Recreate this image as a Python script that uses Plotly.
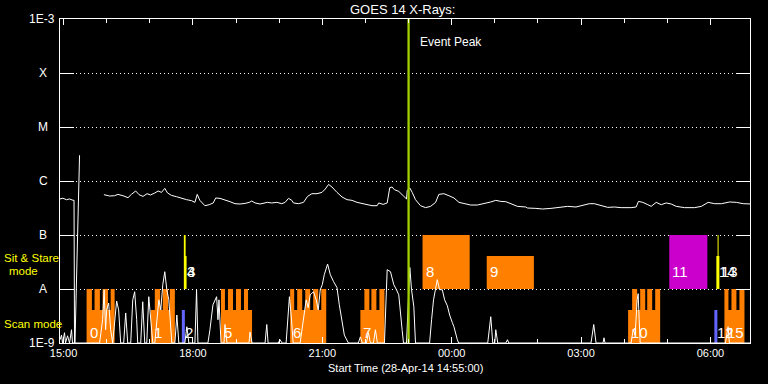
import plotly.graph_objects as go
from datetime import datetime, timedelta
import math

# ---------------- data ----------------
START = datetime(2014, 4, 28, 14, 55)
END = datetime(2014, 4, 29, 6, 55)
EVENT_PEAK_MIN = 485  # minutes after start (23:00)

# GOES 1-8 A channel (minutes after start, flux W/m^2); None = data gap
long_min = [0, 4, 9, 13, 18, 19.5, 20.2, 20.9, 22.3, 24.4, 26.2, 27.2, 40,
            61.1, 69.1, 76.0, 80.6, 87.6, 94.6, 99.3, 105.3, 110.0, 115.5, 121.1, 125.9,
            131.9, 136.5, 141.2, 145.8, 149.6, 155.2, 162.1, 169.1, 176.1, 183.1, 187.7,
            190.9, 194.6, 201.6, 207.6, 213.2, 216.6, 222.6, 229.5, 236.5, 243.5, 250.5,
            257.5, 263.4, 266.8, 271.4, 278.4, 283.0, 288.5, 294.7, 301.7, 308.6, 313.2,
            317.9, 322.6, 324.8, 331.8, 338.8, 344.4, 350.5, 357.5, 364.5, 369.1, 373.7,
            378.4, 385.4, 392.4, 399.3, 406.3, 413.3, 420.3, 427.2, 434.2, 441.2, 443.4,
            449.6, 455.2, 458.8, 462.1, 465.3, 471.3, 477.5, 482.1, 483.1, 486.7, 490.0,
            494.6, 501.6, 508.6, 515.6, 522.6, 527.1, 534.1, 541.1, 548.1, 555.1, 562.0,
            571.4, 580.7, 589.9, 599.3, 606.3, 613.2, 620.2, 627.2, 636.5, 648.1, 650.5,
            662.1, 671.4, 683.0, 694.6, 706.3, 717.9, 727.2, 736.4, 743.4, 752.7, 762.1,
            771.3, 780.7, 794.6, 801.6, 804.8, 810.9, 817.9, 822.5, 829.5, 836.5, 843.4,
            850.4, 857.4, 869.0, 883.0, 892.3, 901.7, 910.9, 920.2, 931.8, 941.1, 950.5,
            962.1]
long_flux = [4.65e-7, 4.8e-7, 4.5e-7, 4.65e-7, 4.4e-7, 4.4e-7, 1e-9, 1e-9, 6.3e-9,
             1.25e-7, 1.0e-6, 3.0e-6, None,
             5.58e-7, 5.27e-7, 5.34e-7, 5.65e-7, 5.34e-7, 4.91e-7, 5.65e-7, 6.53e-7,
             5.58e-7, 5.19e-7, 5.82e-7, 5.51e-7,
             6.00e-7, 6.53e-7, 6.15e-7, 7.30e-7, 6.00e-7, 5.41e-7, 5.12e-7, 4.77e-7,
             4.51e-7, 4.32e-7, 4.02e-7,
             5.65e-7, 4.38e-7, 3.49e-7, 3.64e-7, 3.92e-7, 4.85e-7, 4.77e-7, 4.51e-7,
             4.14e-7, 3.80e-7, 3.75e-7,
             3.85e-7, 4.02e-7, 4.26e-7, 3.92e-7, 3.75e-7, 3.85e-7, 4.02e-7, 3.92e-7,
             4.02e-7, 3.80e-7, 4.02e-7,
             4.77e-7, 4.38e-7, 3.92e-7, 3.80e-7, 4.02e-7, 5.19e-7, 5.82e-7, 5.82e-7,
             6.15e-7, 7.11e-7, 8.65e-7,
             7.74e-7, 6.15e-7, 5.06e-7, 4.51e-7, 4.38e-7, 4.02e-7, 3.80e-7, 3.64e-7,
             3.49e-7, 3.49e-7, 3.92e-7,
             3.69e-7, 3.92e-7, 7.52e-7, 7.74e-7, 6.90e-7, 6.42e-7, 5.34e-7, 4.65e-7,
             6.70e-7, 7.42e-7, 6.15e-7,
             4.51e-7, 3.49e-7, 3.21e-7, 3.39e-7, 4.02e-7, 5.65e-7, 5.82e-7, 5.34e-7,
             4.85e-7, 4.02e-7, 3.80e-7,
             3.59e-7, 3.59e-7, 3.80e-7, 4.09e-7, 4.38e-7, 4.19e-7, 4.14e-7, 3.80e-7,
             3.39e-7, 3.30e-7, 3.16e-7,
             3.11e-7, 3.03e-7, 3.11e-7, 3.21e-7, 3.39e-7, 3.30e-7, 3.49e-7, 3.80e-7,
             3.80e-7, 3.49e-7, 3.25e-7,
             3.30e-7, 3.21e-7, 3.21e-7, 3.30e-7, 4.19e-7, 4.02e-7, 3.64e-7, 3.39e-7,
             4.02e-7, 3.64e-7, 3.92e-7,
             3.75e-7, 3.39e-7, 3.21e-7, 3.21e-7, 3.39e-7, 4.02e-7, 3.80e-7, 3.80e-7,
             4.09e-7, 4.02e-7, 3.80e-7,
             3.75e-7]

# GOES 0.5-4 A channel (minutes after start, flux W/m^2)
short_min = [0, 2.1, 3.5, 6.3, 7.7, 10.5, 13.3, 16.0, 17.4,
             55.1, 59.3, 61.4, 63.5, 64.9, 67.7, 70.5, 73.3, 76.0, 78.8, 81.6, 84.4,
             88.6, 91.4, 94.2,
             98.4, 101.2, 103.9, 106.7, 108.1,
             112.3, 115.1, 117.9,
             120.7, 123.5, 126.3, 129.1,
             131.9, 134.7, 137.5, 140.2, 143.0, 145.8, 148.6, 151.4, 154.2, 155.6,
             159.8, 162.6, 165.3,
             173.7, 176.5, 179.3,
             187.7, 190.0, 191.9,
             205.8, 208.6, 212.8, 217.9, 219.8, 221.2, 224.0,
             228.2, 229.5, 232.3,
             263.0, 264.4, 267.2,
             285.3, 287.7, 289.5,
             303.5, 306.2, 309.0,
             314.6, 317.4, 319.2, 321.6, 324.4,
             334.1, 338.4, 342.5, 345.3, 348.1, 352.7, 356.5, 359.3, 362.1, 364.9, 367.7,
             372.3, 376.1, 380.6, 385.4, 388.6, 392.4, 395.6, 401.2,
             415.1, 417.9, 420.7, 426.3, 429.1, 431.9, 436.1, 438.8, 441.6,
             451.4, 453.5, 455.2, 459.8, 464.4, 468.1, 471.3, 476.1, 477.9,
             482.1, 484.9, 486.7, 489.1, 492.3, 494.6,
             514.2, 517.0, 519.7, 524.9, 528.1, 531.9, 535.1, 538.9, 542.1, 545.8, 548.1,
             552.8, 554.6,
             595.1, 599.3, 602.1, 604.9, 606.3, 609.0,
             620.2, 622.6, 624.4,
             738.8, 742.6, 744.4, 745.8,
             755.5, 756.9, 758.3,
             794.6, 797.4, 800.2, 803.0, 804.4, 805.8, 807.2,
             925.8, 929.5, 931.3, 962.1]
short_flux = [1.15e-9, 1.4e-9, 1e-9, 1.55e-9, 1e-9, 1.36e-9, 1e-9, 1.76e-9, 1e-9,
              1e-9, 2.7e-9, 9.7e-9, 1.76e-9, 4.1e-9, 5.5e-9, 1.76e-9, 1e-9, 2.7e-9, 6.0e-9,
              4.1e-9, 1e-9,
              1e-9, 3.6e-9, 1e-9,
              1e-9, 6.3e-9, 8.9e-9, 2.7e-9, 1e-9,
              1e-9, 5.8e-9, 1e-9,
              1e-9, 7.2e-9, 2.7e-9, 1e-9,
              1e-9, 2.7e-9, 6.3e-9, 4.1e-9, 1.2e-8, 2.09e-8, 9.7e-9, 6.3e-9, 1.76e-9, 1e-9,
              1e-9, 3.3e-9, 1e-9,
              1e-9, 2.0e-9, 1e-9,
              1e-9, 9.7e-9, 1e-9,
              1e-9, 1.76e-9, 5.1e-9, 7.2e-9, 2.7e-9, 6.3e-9, 1e-9,
              1e-9, 2.2e-9, 1e-9,
              1e-9, 1.6e-9, 1e-9,
              1e-9, 2.2e-9, 1e-9,
              1e-9, 1.15e-9, 1e-9,
              1e-9, 4.1e-9, 7.2e-9, 3.3e-9, 1e-9,
              1e-9, 2.7e-9, 6.3e-9, 4.5e-9, 7.8e-9, 8.9e-9, 6.3e-9, 4.1e-9, 9.7e-9, 1.2e-8,
              1.84e-8,
              2.9e-8, 1.84e-8, 1.37e-8, 1.06e-8, 5.1e-9, 2.4e-9, 1.4e-9, 1e-9,
              1e-9, 1.3e-9, 1e-9, 1e-9, 1.55e-9, 1e-9, 1e-9, 1.76e-9, 1e-9,
              1e-9, 6.3e-9, 2.28e-8, 2.09e-8, 1.2e-8, 9.7e-9, 7.8e-9, 1.7e-9, 1e-9,
              1e-9, 6.3e-9, 2.5e-8, 9.7e-9, 4.7e-9, 1e-9,
              1e-9, 2.7e-9, 6.3e-9, 1.49e-8, 9.7e-9, 9.7e-9, 6.3e-9, 4.9e-9, 3.3e-9, 2.4e-9,
              2.0e-9,
              1.15e-9, 1e-9,
              1e-9, 3.07e-9, 1e-9, 1e-9, 1.76e-9, 1e-9,
              1e-9, 1.15e-9, 1e-9,
              1e-9, 2.2e-9, 1.15e-9, 1e-9,
              1e-9, 1.25e-9, 1e-9,
              1e-9, 1.76e-9, 1.4e-9, 6.3e-9, 8.2e-9, 2.7e-9, 1e-9,
              1e-9, 2.0e-9, 1e-9, 1e-9]

# y axis levels
level_vals = [1e-9, 1e-8, 1e-7, 1e-6, 1e-5, 1e-4, 1e-3]
level_text = ['1E-9', 'A', 'B', 'C', 'M', 'X', '1E-3']

# observations: id, mode, start/end minutes after START
obs_id = [0, 1, 2, 3, 4, 5, 6, 7, 8, 9, 10, 11, 12, 13, 14, 15]
obs_mode = ['scan', 'scan', 'scan', 'ss', 'ss', 'scan', 'scan', 'scan',
            'ss', 'ss', 'scan', 'ss', 'scan', 'ss', 'ss', 'scan']
obs_start = [37.0, 126.3, 169.5, 172.3, 172.3, 224.0, 320.2, 417.9,
             504.4, 593.7, 790.4, 847.7, 910.4, 914.9, 913.2, 924.4]
obs_end = [76.0, 159.8, 173.7, 174.8, 176.1, 267.2, 370.4, 451.4,
           570.0, 659.3, 835.0, 900.7, 914.6, 916.3, 917.4, 952.3]
obs_full = [True, True, False, True, False, True, True, True,
            True, False, True, True, False, True, False, True]
obs_color = ['#ff8000', '#ff8000', '#6464ff', '#ffff00', '#ffff00', '#ff8000', '#ff8000',
             '#ff8000', '#ff8000', '#ff8000', '#ff8000', '#cc00cc', '#6464ff', '#ffff00',
             '#ffff00', '#ff8000']
obs_steps = {
    0: [(37.0, 44.4), (48.1, 55.5), (59.3, 66.7), (70.5, 76.0)],
    1: [(131.9, 139.3), (143.0, 150.4), (152.8, 159.8)],
    5: [(224.0, 229.5), (233.7, 240.7), (244.9, 251.8), (256.0, 261.6)],
    6: [(320.2, 325.8), (330.0, 337.0), (341.2, 348.1), (352.3, 359.3), (363.5, 370.4)],
    7: [(423.5, 430.4), (433.2, 440.2), (444.4, 451.4)],
    10: [(796.0, 803.0), (807.2, 814.2), (817.0, 823.9), (828.1, 835.0)],
    15: [(924.4, 930.0), (934.2, 941.1), (945.3, 952.3)],
}

SCAN_LO, SCAN_MID, SCAN_HI = 1e-9, 4.1e-9, 1e-8
SS_LO, SS_MID, SS_HI = 1e-8, 4.1e-8, 1e-7

# ---------------- build ----------------
def T(m):
    return START + timedelta(minutes=m)

fig = go.Figure()

# observation boxes, grouped by colour
groups = {}
for i, oid in enumerate(obs_id):
    c = obs_color[i]
    xs, ys = groups.setdefault(c, ([], []))
    t0, t1 = obs_start[i], obs_end[i]
    if obs_mode[i] == 'scan':
        rects = [(t0, t1, SCAN_LO, SCAN_MID)]
        for (a, b) in obs_steps.get(oid, []):
            rects.append((a, b, SCAN_LO, SCAN_HI))
    else:
        rects = [(t0, t1, SS_LO, SS_HI if obs_full[i] else SS_MID)]
    for (a, b, lo, hi) in rects:
        xs += [T(a), T(b), T(b), T(a), T(a), None]
        ys += [lo, lo, hi, hi, lo, None]

for c, (xs, ys) in groups.items():
    fig.add_trace(go.Scatter(x=xs, y=ys, mode='lines', fill='toself', fillcolor=c,
                             line=dict(width=0, color=c), hoverinfo='skip'))

# GOES curves
fig.add_trace(go.Scatter(x=[T(m) for m in short_min], y=short_flux, mode='lines',
                         line=dict(color='white', width=1), hoverinfo='skip'))
fig.add_trace(go.Scatter(x=[T(m) for m in long_min], y=long_flux, mode='lines',
                         line=dict(color='white', width=1), connectgaps=False,
                         hoverinfo='skip'))

# event peak line
fig.add_trace(go.Scatter(x=[T(EVENT_PEAK_MIN), T(EVENT_PEAK_MIN)], y=[1e-9, 1e-3],
                         mode='lines', line=dict(color='#a0d000', width=2.3),
                         hoverinfo='skip'))

FONT = 'Liberation Sans'
ann = []
# observation labels
for i, oid in enumerate(obs_id):
    ann.append(dict(x=T(obs_start[i]), xref='x', y=0.0318 if obs_mode[i] == 'scan' else 0.220,
                    yref='paper', text=str(oid), showarrow=False, xanchor='left',
                    yanchor='middle', xshift=1,
                    font=dict(family=FONT, size=15, color='white')))

# y level labels
for v, t in zip(level_vals, level_text):
    if t.startswith('1E'):
        ann.append(dict(x=-0.0045, xref='paper', y=math.log10(v), yref='y', text=t,
                        showarrow=False, xanchor='right', yanchor='middle',
                        font=dict(family=FONT, size=12, color='white')))
    else:
        ann.append(dict(x=-0.0245, xref='paper', y=math.log10(v), yref='y', text=t,
                        showarrow=False, xanchor='center', yanchor='middle',
                        font=dict(family=FONT, size=12, color='white')))

# mode labels
ann.append(dict(x=-0.084, xref='paper', y=0.263, yref='paper', text='Sit & Stare',
                showarrow=False, xanchor='left', yanchor='middle',
                font=dict(family=FONT, size=11.5, color='#ffff00')))
ann.append(dict(x=-0.0525, xref='paper', y=0.223, yref='paper', text='mode',
                showarrow=False, xanchor='center', yanchor='middle',
                font=dict(family=FONT, size=11.5, color='#ffff00')))
ann.append(dict(x=-0.084, xref='paper', y=0.0596, yref='paper', text='Scan mode',
                showarrow=False, xanchor='left', yanchor='middle',
                font=dict(family=FONT, size=11.5, color='#ffff00')))

# event peak text
ann.append(dict(x=T(EVENT_PEAK_MIN), xref='x', y=0.928, yref='paper', text='Event Peak',
                showarrow=False, xanchor='left', yanchor='middle', xshift=9,
                font=dict(family=FONT, size=12, color='white')))

# title and x title
ann.append(dict(x=0.4957, xref='paper', y=1.0287, yref='paper', text='GOES 14 X-Rays:',
                showarrow=False, xanchor='center', yanchor='middle',
                font=dict(family=FONT, size=13, color='white')))
ann.append(dict(x=0.5, xref='paper', y=-0.0784, yref='paper',
                text='Start Time (28-Apr-14 14:55:00)',
                showarrow=False, xanchor='center', yanchor='middle',
                font=dict(family=FONT, size=11, color='white')))

fig.update_layout(
    width=768, height=384,
    margin=dict(l=60, r=18, t=19, b=41, autoexpand=False),
    paper_bgcolor='black', plot_bgcolor='black',
    showlegend=False, hovermode=False,
    annotations=ann,
    xaxis=dict(
        type='date', range=[START, END],
        tick0='2014-04-28 15:00:00', dtick=3 * 3600 * 1000, tickformat='%H:%M',
        ticks='inside', ticklen=6, tickwidth=1, tickcolor='white',
        minor=dict(dtick=3600 * 1000, ticks='inside', ticklen=4, tickcolor='white',
                   showgrid=False),
        showline=True, linecolor='white', linewidth=1, mirror='ticks',
        showgrid=False, zeroline=False,
        tickfont=dict(family=FONT, size=11, color='white'),
    ),
    yaxis=dict(
        type='log', range=[-9, -3], tickvals=level_vals, showticklabels=False,
        ticks='inside', ticklen=14, tickwidth=1, tickcolor='white',
        showline=True, linecolor='white', linewidth=1, mirror='ticks',
        showgrid=True, gridcolor='white', gridwidth=1, griddash='1px,3px',
        zeroline=False,
    ),
)

fig.write_html("out.html", config={'displayModeBar': False},
               post_script="document.body.style.margin='0px';"
                           "document.body.style.background='black';")
